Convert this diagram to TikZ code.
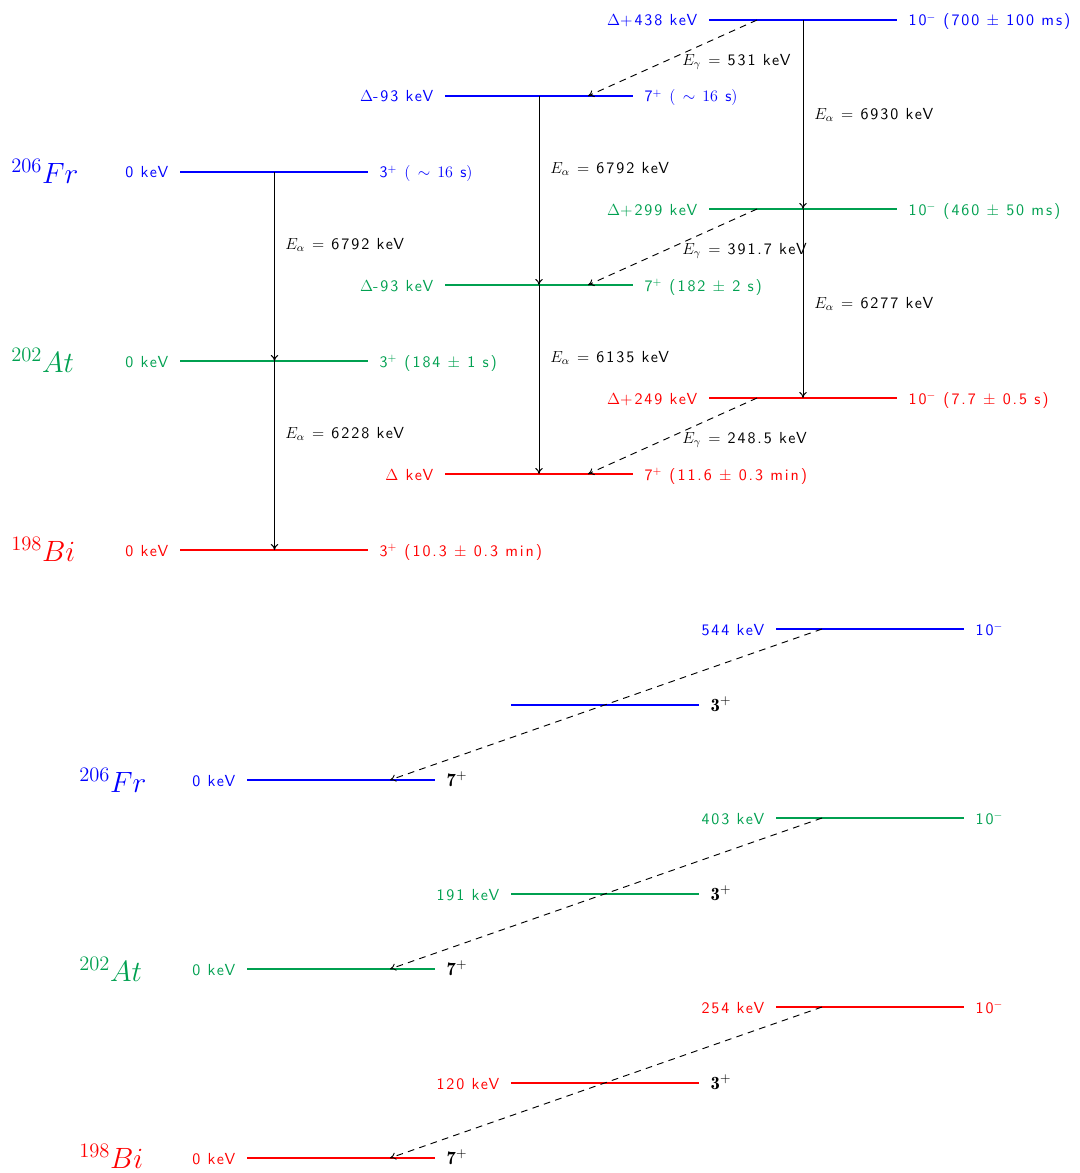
\RequirePackage{fix-cm}
\documentclass[tikz,border=0pt]{standalone}
\usepackage{fontspec}
\setsansfont{lmsans10-regular.otf}[LetterSpace=12]
\usetikzlibrary{arrows.meta}
\definecolor{mygreen}{RGB}{0,160,80}
\tikzset{
  lab/.style={font=\sffamily\fontsize{12}{14}\selectfont, inner sep=0pt},
  iso/.style={font=\fontsize{22}{26}\selectfont, inner sep=0pt, anchor=base west},
  lvl/.style={line width=1.1pt},
  decay/.style={-{To[length=4.5pt,width=5.5pt]}, line width=0.7pt, draw=black},
  gam/.style={-{To[length=4.5pt,width=5.5pt]}, line width=0.7pt, draw=black, dash pattern=on 5pt off 4pt},
  elab/.style={lab, anchor=west, text=black},
}
\newcommand{\spin}[1]{{\color{black}\fontsize{14}{16}\selectfont$\mathbf{#1}^+$}}
% level line: name, x-left, x-right, y, colour
\newcommand{\levline}[5]{%
  \coordinate (#1l) at (#2,#4);
  \coordinate (#1r) at (#3,#4);
  \draw[lvl,draw=#5] (#1l) -- (#1r);
}
% level labels: name, colour, left text, right text
\newcommand{\levlab}[4]{%
  \node[lab,text=#2,anchor=base east] (#1L) at ([xshift=-8.6pt,yshift=-4.5pt]#1l) {#3};
  \node[lab,text=#2,anchor=base west] (#1R) at ([xshift=8.6pt,yshift=-4.5pt]#1r) {#4};
}
\begin{document}
\begin{tikzpicture}[x=0.75pt,y=-0.75pt]
\useasboundingbox (0,0) rectangle (1079,1173);
% ---------- level lines ----------
\levline{fa}{180}{368}{172}{blue}
\levline{aa}{180}{368}{361}{mygreen}
\levline{ba}{180}{368}{550}{red}
\levline{fb}{445}{633}{96}{blue}
\levline{ab}{445}{633}{285}{mygreen}
\levline{bb}{445}{633}{474}{red}
\levline{fc}{709}{897}{20}{blue}
\levline{ac}{709}{897}{209}{mygreen}
\levline{bc}{709}{897}{398}{red}
\levline{gfa}{247}{435}{780}{blue}
\levline{gaa}{247}{435}{969}{mygreen}
\levline{gba}{247}{435}{1158}{red}
\levline{gfb}{511}{699}{705}{blue}
\levline{gab}{511}{699}{894}{mygreen}
\levline{gbb}{511}{699}{1083}{red}
\levline{gfc}{776}{964}{629}{blue}
\levline{gac}{776}{964}{818}{mygreen}
\levline{gbc}{776}{964}{1007}{red}
% ---------- alpha decays ----------
\coordinate (faM) at (274.5,172);
\coordinate (aaM) at (274.5,361);
\coordinate (baM) at (274.5,550);
\coordinate (fbM) at (539,96);
\coordinate (abM) at (539,285);
\coordinate (bbM) at (539,474);
\coordinate (fcM) at (803,20);
\coordinate (acM) at (803,209);
\coordinate (bcM) at (803,398);
\draw[decay] (faM) -- (aaM);
\draw[decay] (aaM) -- (baM);
\draw[decay] (fbM) -- (abM);
\draw[decay] (abM) -- (bbM);
\draw[decay] (fcM) -- (acM);
\draw[decay] (acM) -- (bcM);
% ---------- gamma transitions ----------
\coordinate (fcG) at (757,20);   \coordinate (fbG) at (588,96);
\coordinate (acG) at (757,209);  \coordinate (abG) at (588,285);
\coordinate (bcG) at (757,398);  \coordinate (bbG) at (588,474);
\draw[gam] (fcG) -- (fbG);
\draw[gam] (acG) -- (abG);
\draw[gam] (bcG) -- (bbG);
\coordinate (gfcG) at (822,629);  \coordinate (gfaG) at (390,780);
\coordinate (gacG) at (822,818);  \coordinate (gaaG) at (390,969);
\coordinate (gbcG) at (822,1007); \coordinate (gbaG) at (390,1158);
\draw[gam] (gfcG) -- (gfaG);
\draw[gam] (gacG) -- (gaaG);
\draw[gam] (gbcG) -- (gbaG);
% ---------- texts ----------
\node[iso,text=blue] (isoFr) at (11,183.5) {$^{206}Fr$};
\node[iso,text=mygreen] (isoAt) at (11,372.5) {$^{202}At$};
\node[iso,text=red] (isoBi) at (11,561.5) {$^{198}Bi$};
\node[iso,text=blue] (isoFr2) at (79,792) {$^{206}Fr$};
\node[iso,text=mygreen] (isoAt2) at (79,981) {$^{202}At$};
\node[iso,text=red] (isoBi2) at (79,1168.5) {$^{198}Bi$};
\levlab{fa}{blue}{0 keV}{3$^+$ $(\ \sim\, 16$ s$)$}
\levlab{aa}{mygreen}{0 keV}{3$^+$ (184 $\pm$ 1 s)}
\levlab{ba}{red}{0 keV}{3$^+$ (10.3 $\pm$ 0.3 min)}
\levlab{fb}{blue}{$\Delta$-93 keV}{7$^+$ $(\ \sim\, 16$ s$)$}
\levlab{ab}{mygreen}{$\Delta$-93 keV}{7$^+$ (182 $\pm$ 2 s)}
\levlab{bb}{red}{$\Delta$ keV}{7$^+$ (11.6 $\pm$ 0.3 min)}
\levlab{fc}{blue}{$\Delta$+438 keV}{10$^-$ (700 $\pm$ 100 ms)}
\levlab{ac}{mygreen}{$\Delta$+299 keV}{10$^-$ (460 $\pm$ 50 ms)}
\levlab{bc}{red}{$\Delta$+249 keV}{10$^-$ (7.7 $\pm$ 0.5 s)}
\levlab{gfa}{blue}{0 keV}{\spin{7}}
\levlab{gaa}{mygreen}{0 keV}{\spin{7}}
\levlab{gba}{red}{0 keV}{\spin{7}}
\node[lab,anchor=base west] (gfbR) at ([xshift=8.6pt,yshift=-4.5pt]gfbr) {\spin{3}};
\levlab{gab}{mygreen}{191 keV}{\spin{3}}
\levlab{gbb}{red}{120 keV}{\spin{3}}
\levlab{gfc}{blue}{544 keV}{10$^-$}
\levlab{gac}{mygreen}{403 keV}{10$^-$}
\levlab{gbc}{red}{254 keV}{10$^-$}
\node[elab] (ea1) at (285,245) {$E_\alpha$ $=$ 6792 keV};
\node[elab] (ea2) at (285,434) {$E_\alpha$ $=$ 6228 keV};
\node[elab] (ea3) at (550,169) {$E_\alpha$ $=$ 6792 keV};
\node[elab] (ea4) at (550,358) {$E_\alpha$ $=$ 6135 keV};
\node[elab] (ea5) at (814,115) {$E_\alpha$ $=$ 6930 keV};
\node[elab] (ea6) at (814,304) {$E_\alpha$ $=$ 6277 keV};
\node[elab] (eg1) at (682,62) {$E_\gamma$ $=$ 531 keV};
\node[elab] (eg2) at (682,251) {$E_\gamma$ $=$ 391.7 keV};
\node[elab] (eg3) at (682,440) {$E_\gamma$ $=$ 248.5 keV};
\end{tikzpicture}
\end{document}
